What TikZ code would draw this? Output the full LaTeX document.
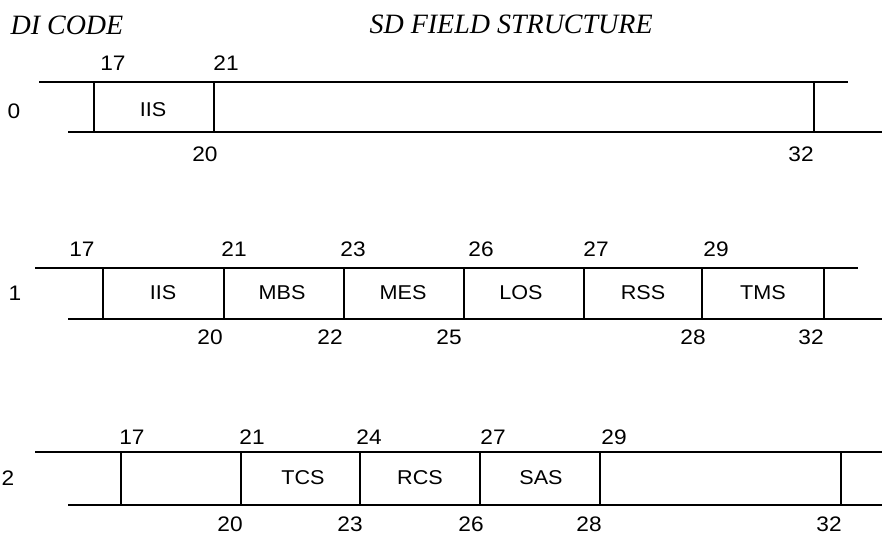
\documentclass[tikz,border=0pt]{standalone}
\usepackage{fontspec}
\setmainfont{Liberation Serif}
\setsansfont[FakeStretch=1.08]{Liberation Sans}
\usetikzlibrary{positioning}
\tikzset{
  every picture/.style={line width=1.1pt},
  rule/.style={draw=black, line width=1.1pt},
  num/.style={font=\sffamily\fontsize{21}{21}\selectfont, inner sep=0pt},
  fld/.style={font=\sffamily\fontsize{20}{20}\selectfont, inner sep=0pt},
  title/.style={font=\itshape\fontsize{28}{28}\selectfont, inner sep=0pt, anchor=west},
}
\begin{document}
\begin{tikzpicture}[x=1pt, y=-1pt]
  \useasboundingbox (0,0) rectangle (882,535);
  % titles
  \node[title] (dicode) at (10,25) {DI CODE};
  \node[title] (sdfs) at (369,24) {SD FIELD STRUCTURE};
  % code 0
  \node[num] (code0) at (14,111) {0};
  \coordinate (r0tl) at (39,82);  \coordinate (r0tr) at (848,82);
  \coordinate (r0bl) at (68,132); \coordinate (r0br) at (882,132);
  \draw[rule] (r0tl) -- (r0tr);
  \draw[rule] (r0bl) -- (r0br);
  \foreach \x [count=\i] in {94,214,814} \draw[rule] (\x,82) coordinate (r0u\i) -- (\x,132) coordinate (r0d\i);
  \foreach \v/\x [count=\i] in {17/113, 21/226} \node[num] (r0n\i) at (\x,63) {\v};
  \foreach \v/\x [count=\i] in {20/205, 32/801} \node[num] (r0m\i) at (\x,154) {\v};
  \node[fld] (r0iis) at (153,110) {IIS};
  % code 1
  \node[num] (code1) at (15,293) {1};
  \coordinate (r1tl) at (35,268); \coordinate (r1tr) at (858,268);
  \coordinate (r1bl) at (68,319); \coordinate (r1br) at (882,319);
  \draw[rule] (r1tl) -- (r1tr);
  \draw[rule] (r1bl) -- (r1br);
  \foreach \x [count=\i] in {103,224,344,464,584,702,824} \draw[rule] (\x,268) coordinate (r1u\i) -- (\x,319) coordinate (r1d\i);
  \foreach \v/\x [count=\i] in {17/82, 21/234, 23/353, 26/481, 27/596, 29/716} \node[num] (r1n\i) at (\x,249) {\v};
  \foreach \v/\x [count=\i] in {20/210, 22/330, 25/449, 28/693, 32/811} \node[num] (r1m\i) at (\x,337) {\v};
  \foreach \t/\x [count=\i] in {IIS/163, MBS/282, MES/403, LOS/521, RSS/643, TMS/763} \node[fld] (r1f\i) at (\x,293) {\t};
  % code 2
  \node[num] (code2) at (8,478) {2};
  \coordinate (r2tl) at (35,452); \coordinate (r2tr) at (882,452);
  \coordinate (r2bl) at (68,505); \coordinate (r2br) at (882,505);
  \draw[rule] (r2tl) -- (r2tr);
  \draw[rule] (r2bl) -- (r2br);
  \foreach \x [count=\i] in {121,241,360,480,600,841} \draw[rule] (\x,452) coordinate (r2u\i) -- (\x,505) coordinate (r2d\i);
  \foreach \v/\x [count=\i] in {17/132, 21/252, 24/369, 27/493, 29/614} \node[num] (r2n\i) at (\x,437) {\v};
  \foreach \v/\x [count=\i] in {20/230, 23/350, 26/471, 28/589, 32/829} \node[num] (r2m\i) at (\x,524) {\v};
  \foreach \t/\x [count=\i] in {TCS/303, RCS/420, SAS/541} \node[fld] (r2f\i) at (\x,478) {\t};
\end{tikzpicture}
\end{document}
